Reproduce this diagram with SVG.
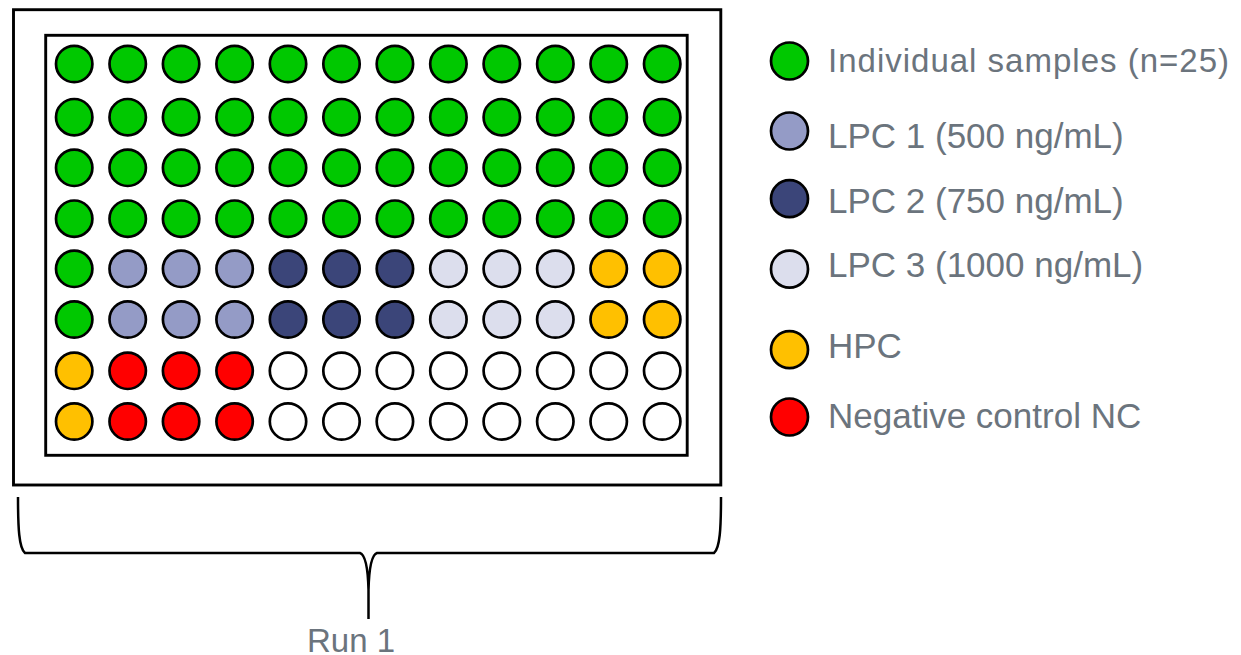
<svg xmlns="http://www.w3.org/2000/svg" width="1241" height="655" viewBox="0 0 1241 655">
<style>
.frame{fill:#ffffff;stroke:#000000;stroke-width:2.9}
.w{stroke:#000000;stroke-width:2.7}
.g{fill:#00c800}
.l1{fill:#949bc6}
.l2{fill:#3b4579}
.l3{fill:#dcdeed}
.h{fill:#ffc000}
.n{fill:#ff0000}
.e{fill:#ffffff}
.t{font-family:"Liberation Sans",Arial,sans-serif;fill:#6b747d}
.brace{fill:none;stroke:#000000;stroke-width:2.5;stroke-linejoin:round}
</style>
<rect width="1241" height="655" fill="#ffffff"/>
<g id="plate">
<rect class="frame" x="13.5" y="9.7" width="707.3" height="475.3"/>
<rect class="frame" x="45.7" y="35.3" width="641.5" height="420"/>
</g>
<g id="wells">
<g id="row1">
<circle class="w g" cx="74.2" cy="64" r="18.2"/><circle class="w g" cx="127.7" cy="64" r="18.2"/><circle class="w g" cx="181.1" cy="64" r="18.2"/><circle class="w g" cx="234.6" cy="64" r="18.2"/><circle class="w g" cx="288" cy="64" r="18.2"/><circle class="w g" cx="341.5" cy="64" r="18.2"/><circle class="w g" cx="394.9" cy="64" r="18.2"/><circle class="w g" cx="448.4" cy="64" r="18.2"/><circle class="w g" cx="501.8" cy="64" r="18.2"/><circle class="w g" cx="555.3" cy="64" r="18.2"/><circle class="w g" cx="608.7" cy="64" r="18.2"/><circle class="w g" cx="662.2" cy="64" r="18.2"/>
</g>
<g id="row2">
<circle class="w g" cx="74.2" cy="117.2" r="18.2"/><circle class="w g" cx="127.7" cy="117.2" r="18.2"/><circle class="w g" cx="181.1" cy="117.2" r="18.2"/><circle class="w g" cx="234.6" cy="117.2" r="18.2"/><circle class="w g" cx="288" cy="117.2" r="18.2"/><circle class="w g" cx="341.5" cy="117.2" r="18.2"/><circle class="w g" cx="394.9" cy="117.2" r="18.2"/><circle class="w g" cx="448.4" cy="117.2" r="18.2"/><circle class="w g" cx="501.8" cy="117.2" r="18.2"/><circle class="w g" cx="555.3" cy="117.2" r="18.2"/><circle class="w g" cx="608.7" cy="117.2" r="18.2"/><circle class="w g" cx="662.2" cy="117.2" r="18.2"/>
</g>
<g id="row3">
<circle class="w g" cx="74.2" cy="167.8" r="18.2"/><circle class="w g" cx="127.7" cy="167.8" r="18.2"/><circle class="w g" cx="181.1" cy="167.8" r="18.2"/><circle class="w g" cx="234.6" cy="167.8" r="18.2"/><circle class="w g" cx="288" cy="167.8" r="18.2"/><circle class="w g" cx="341.5" cy="167.8" r="18.2"/><circle class="w g" cx="394.9" cy="167.8" r="18.2"/><circle class="w g" cx="448.4" cy="167.8" r="18.2"/><circle class="w g" cx="501.8" cy="167.8" r="18.2"/><circle class="w g" cx="555.3" cy="167.8" r="18.2"/><circle class="w g" cx="608.7" cy="167.8" r="18.2"/><circle class="w g" cx="662.2" cy="167.8" r="18.2"/>
</g>
<g id="row4">
<circle class="w g" cx="74.2" cy="218.7" r="18.2"/><circle class="w g" cx="127.7" cy="218.7" r="18.2"/><circle class="w g" cx="181.1" cy="218.7" r="18.2"/><circle class="w g" cx="234.6" cy="218.7" r="18.2"/><circle class="w g" cx="288" cy="218.7" r="18.2"/><circle class="w g" cx="341.5" cy="218.7" r="18.2"/><circle class="w g" cx="394.9" cy="218.7" r="18.2"/><circle class="w g" cx="448.4" cy="218.7" r="18.2"/><circle class="w g" cx="501.8" cy="218.7" r="18.2"/><circle class="w g" cx="555.3" cy="218.7" r="18.2"/><circle class="w g" cx="608.7" cy="218.7" r="18.2"/><circle class="w g" cx="662.2" cy="218.7" r="18.2"/>
</g>
<g id="row5">
<circle class="w g" cx="74.2" cy="268.8" r="18.2"/><circle class="w l1" cx="127.7" cy="268.8" r="18.2"/><circle class="w l1" cx="181.1" cy="268.8" r="18.2"/><circle class="w l1" cx="234.6" cy="268.8" r="18.2"/><circle class="w l2" cx="288" cy="268.8" r="18.2"/><circle class="w l2" cx="341.5" cy="268.8" r="18.2"/><circle class="w l2" cx="394.9" cy="268.8" r="18.2"/><circle class="w l3" cx="448.4" cy="268.8" r="18.2"/><circle class="w l3" cx="501.8" cy="268.8" r="18.2"/><circle class="w l3" cx="555.3" cy="268.8" r="18.2"/><circle class="w h" cx="608.7" cy="268.8" r="18.2"/><circle class="w h" cx="662.2" cy="268.8" r="18.2"/>
</g>
<g id="row6">
<circle class="w g" cx="74.2" cy="319.5" r="18.2"/><circle class="w l1" cx="127.7" cy="319.5" r="18.2"/><circle class="w l1" cx="181.1" cy="319.5" r="18.2"/><circle class="w l1" cx="234.6" cy="319.5" r="18.2"/><circle class="w l2" cx="288" cy="319.5" r="18.2"/><circle class="w l2" cx="341.5" cy="319.5" r="18.2"/><circle class="w l2" cx="394.9" cy="319.5" r="18.2"/><circle class="w l3" cx="448.4" cy="319.5" r="18.2"/><circle class="w l3" cx="501.8" cy="319.5" r="18.2"/><circle class="w l3" cx="555.3" cy="319.5" r="18.2"/><circle class="w h" cx="608.7" cy="319.5" r="18.2"/><circle class="w h" cx="662.2" cy="319.5" r="18.2"/>
</g>
<g id="row7">
<circle class="w h" cx="74.2" cy="370.8" r="18.2"/><circle class="w n" cx="127.7" cy="370.8" r="18.2"/><circle class="w n" cx="181.1" cy="370.8" r="18.2"/><circle class="w n" cx="234.6" cy="370.8" r="18.2"/><circle class="w e" cx="288" cy="370.8" r="18.2"/><circle class="w e" cx="341.5" cy="370.8" r="18.2"/><circle class="w e" cx="394.9" cy="370.8" r="18.2"/><circle class="w e" cx="448.4" cy="370.8" r="18.2"/><circle class="w e" cx="501.8" cy="370.8" r="18.2"/><circle class="w e" cx="555.3" cy="370.8" r="18.2"/><circle class="w e" cx="608.7" cy="370.8" r="18.2"/><circle class="w e" cx="662.2" cy="370.8" r="18.2"/>
</g>
<g id="row8">
<circle class="w h" cx="74.2" cy="421.5" r="18.2"/><circle class="w n" cx="127.7" cy="421.5" r="18.2"/><circle class="w n" cx="181.1" cy="421.5" r="18.2"/><circle class="w n" cx="234.6" cy="421.5" r="18.2"/><circle class="w e" cx="288" cy="421.5" r="18.2"/><circle class="w e" cx="341.5" cy="421.5" r="18.2"/><circle class="w e" cx="394.9" cy="421.5" r="18.2"/><circle class="w e" cx="448.4" cy="421.5" r="18.2"/><circle class="w e" cx="501.8" cy="421.5" r="18.2"/><circle class="w e" cx="555.3" cy="421.5" r="18.2"/><circle class="w e" cx="608.7" cy="421.5" r="18.2"/><circle class="w e" cx="662.2" cy="421.5" r="18.2"/>
</g>
</g>
<g id="legend">
<g id="leg-samples"><circle class="w g" cx="789.5" cy="61" r="18.5"/><text class="t" x="828" y="71.5" font-size="33" textLength="401" lengthAdjust="spacing">Individual samples (n=25)</text></g>
<g id="leg-lpc1"><circle class="w l1" cx="789.5" cy="131" r="18.5"/><text class="t" x="828" y="148" font-size="35">LPC 1 (500 ng/mL)</text></g>
<g id="leg-lpc2"><circle class="w l2" cx="789.5" cy="198.7" r="18.5"/><text class="t" x="828" y="212.5" font-size="35">LPC 2 (750 ng/mL)</text></g>
<g id="leg-lpc3"><circle class="w l3" cx="789.5" cy="269.2" r="18.5"/><text class="t" x="828" y="277" font-size="35">LPC 3 (1000 ng/mL)</text></g>
<g id="leg-hpc"><circle class="w h" cx="789.5" cy="349.7" r="18.5"/><text class="t" x="828" y="357.5" font-size="35">HPC</text></g>
<g id="leg-nc"><circle class="w n" cx="789.5" cy="417" r="18.5"/><text class="t" x="828" y="428" font-size="35">Negative control NC</text></g>
</g>
<g id="connectors">
<path class="brace" d="M18 497 C18 528 19 548 25 553 L360 553 C366 555 368 570 368.5 590 L368.5 619 M368.5 590 C369 570 371 555 377 553 L714 553 C720 548 721 528 721 497"/>
</g>
<g id="run-label">
<text class="t" x="351" y="652" font-size="33" text-anchor="middle">Run 1</text>
</g>
</svg>
